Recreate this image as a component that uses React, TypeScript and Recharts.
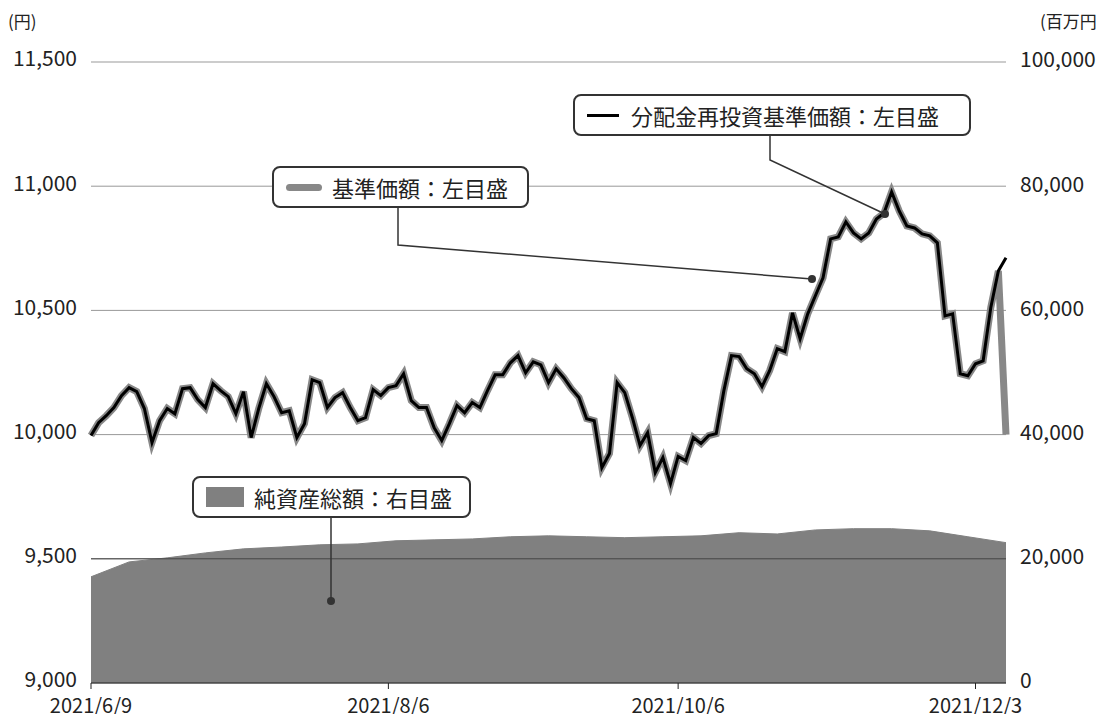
import { ComposedChart, Line, Area, XAxis, YAxis, CartesianGrid, ReferenceLine } from 'recharts';

// 分配金再投資基準価額 (円)
const navReinvested = [
  9996, 10048, 10076, 10109, 10157, 10189, 10173, 10105, 9968, 10056, 10105, 10084, 10185, 10189, 10141, 10109,
  10205, 10177, 10153, 10084, 10173, 9988, 10105, 10205, 10153, 10088, 10096, 9988, 10044, 10221, 10209, 10109,
  10149, 10169, 10109, 10056, 10068, 10181, 10157, 10189, 10197, 10245, 10137, 10109, 10109, 10028, 9976, 10044,
  10117, 10088, 10129, 10109, 10177, 10241, 10241, 10289, 10318, 10249, 10293, 10281, 10209, 10265, 10229, 10185,
  10149, 10064, 10056, 9867, 9924, 10209, 10169, 10068, 9956, 10008, 9847, 9908, 9803, 9912, 9895, 9988,
  9964, 9996, 10004, 10177, 10318, 10314, 10265, 10245, 10193, 10257, 10346, 10334, 10490, 10386, 10486, 10559,
  10631, 10788, 10796, 10856, 10812, 10788, 10812, 10868, 10892, 10977, 10900, 10840, 10832, 10808, 10800, 10772,
  10478, 10486, 10245, 10237, 10285, 10297, 10511, 10659, 10712,
];
// 基準価額 (円): identical until the distribution on the last day
const navLastDay = 10000;
// 純資産総額 (百万円), every 5th point
const netAssetsStep = 5;
const netAssets = [
  17100, 19500, 20150, 20950, 21600, 21900, 22250, 22400, 22900, 23050, 23200, 23550, 23700,
  23550, 23400, 23550, 23700, 24200, 24000, 24650, 24850, 24850, 24500, 23550, 22600,
];
const xTicks = [0, 39, 77, 116];
const xTickLabels = ['2021/6/9', '2021/8/6', '2021/10/6', '2021/12/3'];
const leftTicks = [9000, 9500, 10000, 10500, 11000, 11500];
const rightTicks = [0, 20000, 40000, 60000, 80000, 100000];

const data = navReinvested.map((v, i) => ({
  i,
  reinvested: v,
  nav: i === navReinvested.length - 1 ? navLastDay : v,
  assets: i % netAssetsStep === 0 ? netAssets[i / netAssetsStep] : null,
}));

const font = '"Noto Sans CJK JP", "Noto Sans", sans-serif';
const tickStyle = { fontSize: 21, fill: '#222', fontFamily: font };

const boxStyle = (left: number, top: number, width: number): React.CSSProperties => ({
  position: 'absolute', left, top, width, height: 42, boxSizing: 'border-box',
  border: '2px solid #333', borderRadius: 8, background: '#fff',
  display: 'flex', alignItems: 'center', paddingLeft: 12, fontSize: 22, color: '#222', fontFamily: font,
});

export default function App() {
  return (
    <div style={{ position: 'relative', width: 1105, height: 722, margin: -8, background: '#fff', fontFamily: font }}>
      <ComposedChart width={1105} height={722} data={data} margin={{ top: 62, right: 0, bottom: 0, left: 0 }}>
        <CartesianGrid vertical={false} stroke="#999" yAxisId="left" />
        <XAxis
          dataKey="i" type="number" domain={[0, navReinvested.length - 1]} ticks={xTicks}
          tickFormatter={(v) => xTickLabels[xTicks.indexOf(v)]}
          height={39} stroke="#222" tickSize={6} tick={{ ...tickStyle, fontSize: 20, dy: 8 }}
        />
        <YAxis yAxisId="left" domain={[9000, 11500]} ticks={leftTicks} width={91}
          tickFormatter={(v) => v.toLocaleString('en-US')} axisLine={false} tickLine={false} tick={{ ...tickStyle, dy: -3 }} tickMargin={8} />
        <YAxis yAxisId="right" orientation="right" domain={[0, 100000]} ticks={rightTicks} width={99}
          tickFormatter={(v) => v.toLocaleString('en-US')} axisLine={false} tickLine={false} tick={{ ...tickStyle, dy: -2 }} tickMargin={8} />
        <Area yAxisId="right" dataKey="assets" connectNulls type="linear" fill="#808080" fillOpacity={1}
          stroke="#808080" strokeWidth={1} isAnimationActive={false} />
        <ReferenceLine yAxisId="left" y={9500} stroke="#444" />
        <Line yAxisId="left" dataKey="nav" stroke="#888" strokeWidth={7} dot={false} type="linear" isAnimationActive={false} />
        <Line yAxisId="left" dataKey="reinvested" stroke="#000" strokeWidth={3} dot={false} type="linear" isAnimationActive={false} />
      </ComposedChart>

      <div style={{ position: 'absolute', left: 8, top: 8, fontSize: 17, color: '#222' }}>(円)</div>
      <div style={{ position: 'absolute', left: 1040, top: 8, fontSize: 17, color: '#222' }}>(百万円)</div>

      <svg width={1105} height={722} style={{ position: 'absolute', left: 0, top: 0, pointerEvents: 'none' }}>
        <polyline points="770,136 770,160 885,214" fill="none" stroke="#333" strokeWidth={1.5} />
        <circle cx={885} cy={214} r={4} fill="#333" />
        <polyline points="398,206 398,245 812,279" fill="none" stroke="#333" strokeWidth={1.5} />
        <circle cx={812} cy={279} r={4} fill="#333" />
        <polyline points="331,516 331,601" fill="none" stroke="#333" strokeWidth={1.5} />
        <circle cx={331} cy={601} r={4} fill="#333" />
      </svg>

      <div style={boxStyle(573, 94, 398)}>
        <span style={{ display: 'inline-block', width: 32, height: 3, background: '#000', marginRight: 12 }} />
        分配金再投資基準価額：左目盛
      </div>
      <div style={boxStyle(272, 166, 257)}>
        <span style={{ display: 'inline-block', width: 36, height: 7, borderRadius: 4, background: '#888', marginRight: 10 }} />
        基準価額：左目盛
      </div>
      <div style={boxStyle(192, 476, 279)}>
        <span style={{ display: 'inline-block', width: 38, height: 20, background: '#808080', marginRight: 10 }} />
        純資産総額：右目盛
      </div>
    </div>
  );
}
